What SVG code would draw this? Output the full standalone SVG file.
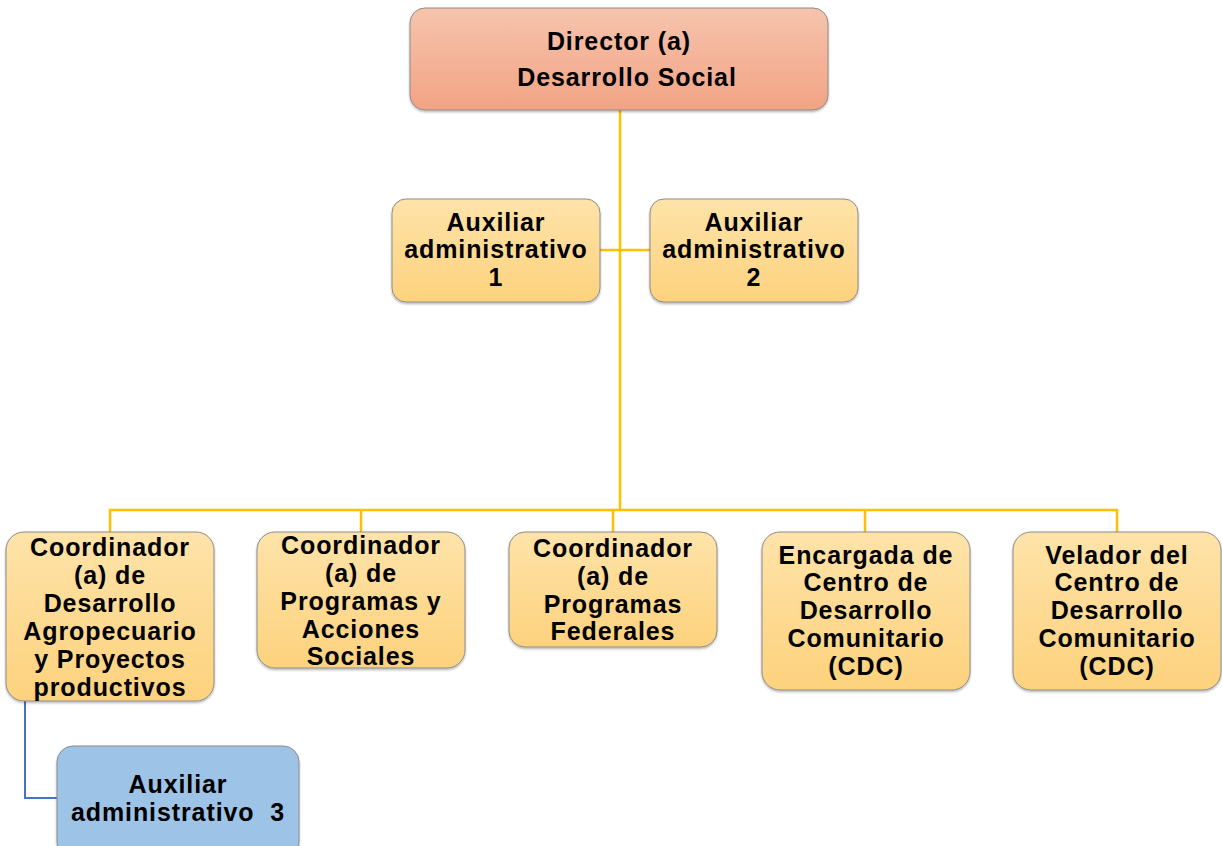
<svg xmlns="http://www.w3.org/2000/svg" width="1222" height="846" viewBox="0 0 1222 846">
<defs>
<linearGradient id="gDir" x1="0" y1="0" x2="0" y2="1"><stop offset="0" stop-color="#f6c4ad"/><stop offset="1" stop-color="#f2a384"/></linearGradient>
<linearGradient id="gY" x1="0" y1="0" x2="0" y2="1"><stop offset="0" stop-color="#fee3a9"/><stop offset="1" stop-color="#fdd27d"/></linearGradient>
<filter id="sh" x="-5%" y="-5%" width="110%" height="115%"><feDropShadow dx="0" dy="1.5" stdDeviation="1.2" flood-color="#000" flood-opacity="0.3"/></filter>
</defs>
<style>
.box{stroke:#8c8c8c;stroke-width:1;filter:url(#sh)}
.dir{fill:url(#gDir)}
.y{fill:url(#gY)}
.b{fill:#9dc3e6}
text{font-family:"Liberation Sans",Arial,sans-serif;font-weight:bold;font-size:25px;letter-spacing:0.9px;fill:#000;text-anchor:middle}
.con{fill:none;stroke:#ffc000;stroke-width:2.5}
.conb{fill:none;stroke:#4472c4;stroke-width:2}
</style>
<rect width="1222" height="846" fill="#fff"/>
<g id="connectors">
<path class="con" d="M620 110 V510"/>
<path class="con" d="M600 250 H650"/>
<path class="con" d="M110 532 V510 H1117 V532"/>
<path class="con" d="M361 510 V532 M613 510 V532 M865 510 V532"/>
<path class="conb" d="M25 701 V798 H57"/>
</g>
<g id="director">
<rect class="box dir" x="410" y="8" width="418" height="102" rx="15"/>
<text x="619" y="50">Director (a)</text>
<text x="627" y="86">Desarrollo Social</text>
</g>
<g id="aux1">
<rect class="box y" x="392" y="199" width="208" height="103" rx="14"/>
<text x="496" y="231">Auxiliar</text>
<text x="496" y="258">administrativo</text>
<text x="496" y="286">1</text>
</g>
<g id="aux2">
<rect class="box y" x="650" y="199" width="208" height="103" rx="14"/>
<text x="754" y="231">Auxiliar</text>
<text x="754" y="258">administrativo</text>
<text x="754" y="286">2</text>
</g>
<g id="coord1">
<rect class="box y" x="6" y="532" width="208" height="169" rx="18"/>
<text x="110" y="556">Coordinador</text>
<text x="110" y="584">(a) de</text>
<text x="110" y="612">Desarrollo</text>
<text x="110" y="640">Agropecuario</text>
<text x="110" y="668">y Proyectos</text>
<text x="110" y="696">productivos</text>
</g>
<g id="coord2">
<rect class="box y" x="257" y="532" width="208" height="136" rx="18"/>
<text x="361" y="554">Coordinador</text>
<text x="361" y="582">(a) de</text>
<text x="361" y="610">Programas y</text>
<text x="361" y="638">Acciones</text>
<text x="361" y="665">Sociales</text>
</g>
<g id="coord3">
<rect class="box y" x="509" y="532" width="208" height="115" rx="16"/>
<text x="613" y="557">Coordinador</text>
<text x="613" y="585">(a) de</text>
<text x="613" y="613">Programas</text>
<text x="613" y="640">Federales</text>
</g>
<g id="encargada">
<rect class="box y" x="762" y="532" width="208" height="158" rx="18"/>
<text x="866" y="564">Encargada de</text>
<text x="866" y="591">Centro de</text>
<text x="866" y="619">Desarrollo</text>
<text x="866" y="647">Comunitario</text>
<text x="866" y="675">(CDC)</text>
</g>
<g id="velador">
<rect class="box y" x="1013" y="532" width="208" height="158" rx="18"/>
<text x="1117" y="564">Velador del</text>
<text x="1117" y="591">Centro de</text>
<text x="1117" y="619">Desarrollo</text>
<text x="1117" y="647">Comunitario</text>
<text x="1117" y="675">(CDC)</text>
</g>
<g id="aux3">
<rect class="box b" x="57" y="746" width="242" height="112" rx="16"/>
<text x="178" y="793">Auxiliar</text>
<text x="178" y="821" xml:space="preserve">administrativo  3</text>
</g>
</svg>
